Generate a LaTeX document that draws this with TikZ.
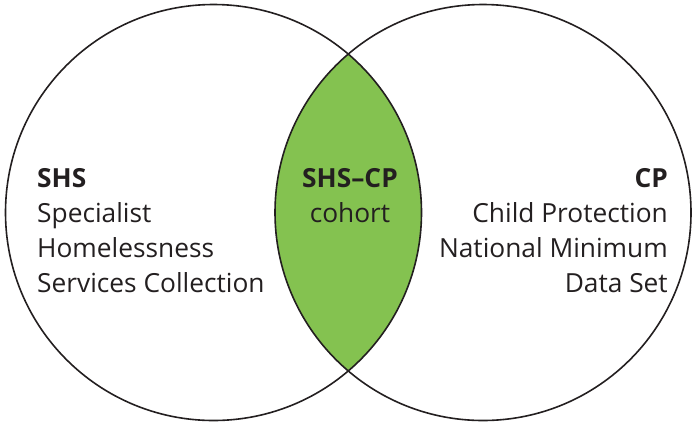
\documentclass[tikz,border=0pt]{standalone}
\usepackage{fontspec}
\setmainfont{Open Sans}
\definecolor{lensgreen}{RGB}{132,194,80}
\definecolor{rimgray}{RGB}{35,31,32}
\tikzset{
  venn/.style={draw=rimgray, line width=1.6pt},
  label/.style={font=\fontsize{26.3}{35}\selectfont, text=rimgray, inner sep=0pt}
}
\begin{document}
\begin{tikzpicture}[x=1pt,y=-1pt]
  \def\rad{208}
  \useasboundingbox (0,0) rectangle (696,424);
  \coordinate (shsc) at (213.5,212.5);
  \coordinate (cpc) at (483,212.5);
  % overlap
  \begin{scope}
    \clip (shsc) circle (\rad);
    \fill[lensgreen] (cpc) circle (\rad);
  \end{scope}
  \draw[venn] (shsc) circle (\rad);
  \draw[venn] (cpc) circle (\rad);
  % texts (base = last line)
  \node[label, align=left, anchor=base west] (shs) at (37,292)
    {\textbf{SHS}\\Specialist\\Homelessness\\Services Collection};
  \node[label, align=center, anchor=base] (both) at (350,222)
    {\textbf{SHS--CP}\\cohort};
  \node[label, align=right, anchor=base east] (cp) at (668,292)
    {\textbf{CP}\\Child Protection\\National Minimum\\Data Set};
\end{tikzpicture}
\end{document}
